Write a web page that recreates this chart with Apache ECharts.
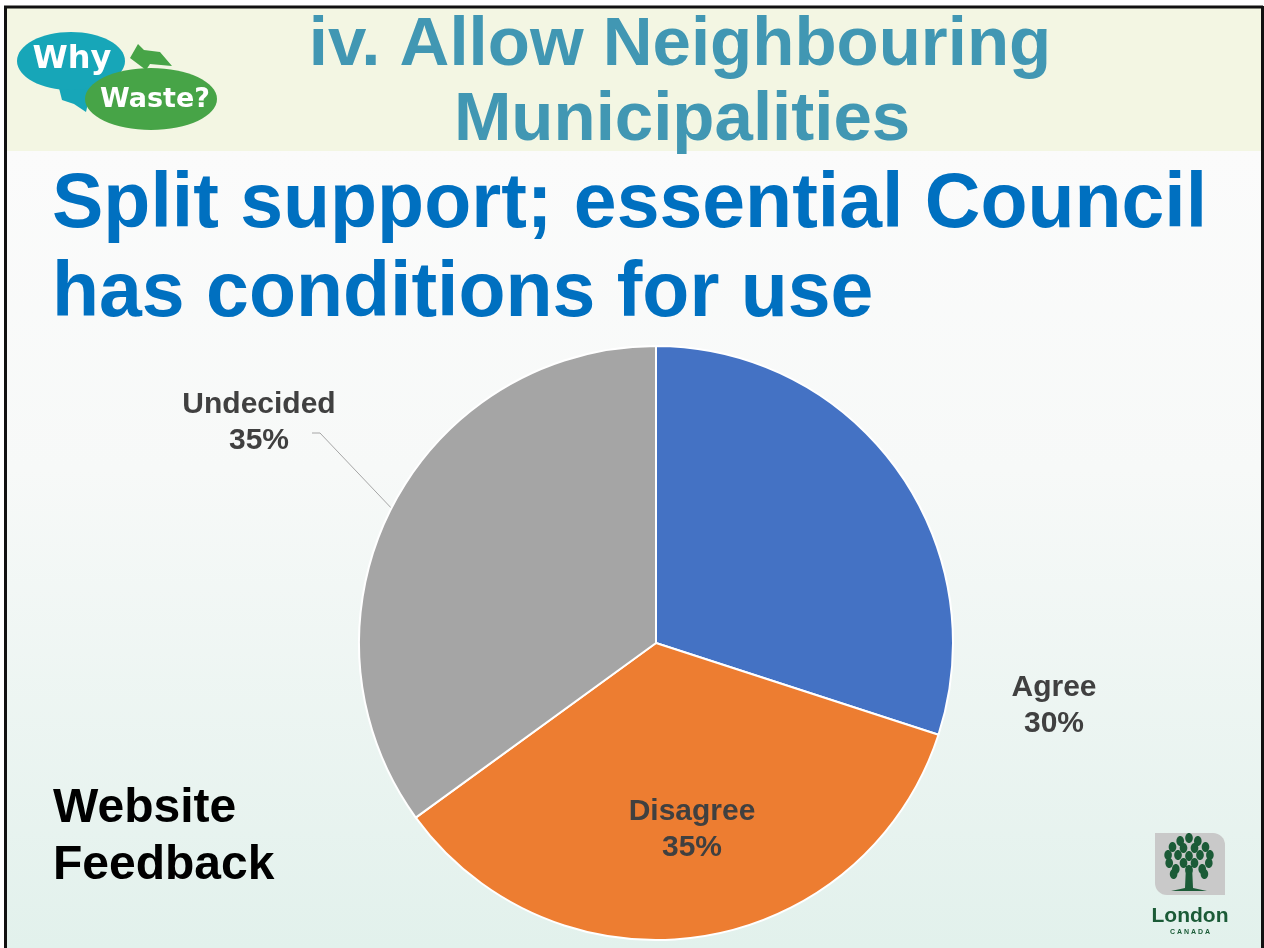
<!DOCTYPE html>
<html>
<head>
<meta charset="utf-8">
<script src="https://cdn.jsdelivr.net/npm/echarts@6/dist/echarts.min.js"></script>
<style>
html,body{margin:0;padding:0;background:#ffffff;}
#chart{width:1264px;height:948px;}
</style>
</head>
<body>
<div id="chart"></div>
<script>
// ---- data ----
const categories = ['Agree', 'Disagree', 'Undecided'];
const values = [30, 35, 35];
const sliceColors = ['#4472C4', '#ED7D31', '#A5A5A5'];
const titleLines = ['iv. Allow Neighbouring', 'Municipalities'];
const subtitleLines = ['Split support; essential Council', 'has conditions for use'];
const noteLines = ['Website', 'Feedback'];

// label placement (label anchors, not marks)
const labelAnchors = [[1054, 706], [692, 830], [259, 423]];
const labelLineShown = [false, false, true];

const FONT = '"Liberation Sans", Arial, sans-serif';
const chart = echarts.init(document.getElementById('chart'), null, {renderer: 'canvas'});

const pieData = categories.map((c, i) => ({
  name: c,
  value: values[i],
  itemStyle: {color: sliceColors[i]},
  labelLine: {show: labelLineShown[i], lineStyle: {color: '#A6A6A6', width: 1}}
}));

// tree leaves for London logo
const leaves = [];
const leafPts = [[0,-22],[-8,-19],[8,-19],[-15,-13],[15,-13],[-19,-5],[19,-5],[-18,3],[18,3],[-12,9],[12,9],[-5,-12],[5,-12],[-10,-5],[10,-5],[0,-4],[-5,3],[5,3],[0,10],[-14,14],[14,14]];
leafPts.forEach(p => leaves.push({
  type: 'ellipse', shape: {cx: 1189 + p[0] * 1.1, cy: 860 + p[1], rx: 3.8, ry: 5},
  style: {fill: '#1B5B37'}
}));

const option = {
  animation: false,
  graphic: [
    // background
    {type: 'rect', shape: {x: 0, y: 0, width: 1264, height: 948}, style: {fill: '#ffffff'}, z: -10},
    {type: 'rect', shape: {x: 6, y: 151, width: 1256, height: 797},
     style: {fill: new echarts.graphic.LinearGradient(0, 0, 0, 1, [
       {offset: 0, color: '#FBFBFB'}, {offset: 0.4, color: '#F7F9F8'}, {offset: 1, color: '#E2F1EC'}])}, z: -9},
    {type: 'rect', shape: {x: 6, y: 8, width: 1256, height: 143}, style: {fill: '#F3F6E3'}, z: -9},
    // frame
    {type: 'line', shape: {x1: 4, y1: 7, x2: 1263, y2: 7}, style: {stroke: '#111', lineWidth: 3}, z: 5},
    {type: 'line', shape: {x1: 5.5, y1: 6, x2: 5.5, y2: 948}, style: {stroke: '#111', lineWidth: 3}, z: 5},
    {type: 'line', shape: {x1: 1262.5, y1: 6, x2: 1262.5, y2: 948}, style: {stroke: '#111', lineWidth: 3}, z: 5},
    // Why Waste logo
    {type: 'polygon', shape: {points: [[58,84],[92,86],[86,112],[74,104],[62,100]]}, style: {fill: '#17A6B8'}, z: 1},
    {type: 'ellipse', shape: {cx: 71, cy: 61, rx: 54, ry: 29}, style: {fill: '#17A6B8'}, z: 1},
    {type: 'polygon', shape: {points: [[130,58],[138,44],[144,50],[160,52],[172,66],[150,64],[146,70]]}, style: {fill: '#47A447'}, z: 1},
    {type: 'ellipse', shape: {cx: 151, cy: 99, rx: 66, ry: 31}, style: {fill: '#47A447'}, z: 2},
    {type: 'text', style: {text: 'Why', x: 72, y: 60, align: 'center', verticalAlign: 'middle',
      font: 'bold 32px "Comic Sans MS", "DejaVu Sans", sans-serif', fill: '#ffffff'}, z: 3},
    {type: 'text', style: {text: 'Waste?', x: 155, y: 100, align: 'center', verticalAlign: 'middle',
      font: 'bold 27px "Comic Sans MS", "DejaVu Sans", sans-serif', fill: '#ffffff'}, z: 3},
    // titles
    {type: 'text', style: {text: titleLines[0], x: 680, y: 46, align: 'center', verticalAlign: 'middle',
      font: 'bold 69px ' + FONT, fill: '#4197B3'}},
    {type: 'text', style: {text: titleLines[1], x: 682, y: 121, align: 'center', verticalAlign: 'middle',
      font: 'bold 69px ' + FONT, fill: '#4197B3'}},
    {type: 'text', style: {text: subtitleLines[0], x: 52, y: 206, align: 'left', verticalAlign: 'middle',
      font: 'bold 77px ' + FONT, fill: '#0070C0'}},
    {type: 'text', style: {text: subtitleLines[1], x: 52, y: 295, align: 'left', verticalAlign: 'middle',
      font: 'bold 77px ' + FONT, fill: '#0070C0'}},
    {type: 'text', style: {text: noteLines[0], x: 53, y: 809, align: 'left', verticalAlign: 'middle',
      font: 'bold 48px ' + FONT, fill: '#000000'}},
    {type: 'text', style: {text: noteLines[1], x: 53, y: 866, align: 'left', verticalAlign: 'middle',
      font: 'bold 48px ' + FONT, fill: '#000000'}},
    // London logo
    {type: 'rect', shape: {x: 1155, y: 833, width: 70, height: 62, r: [0, 12, 0, 12]}, style: {fill: '#C9C9C9'}},
    {type: 'polygon', shape: {points: [[1186,866],[1192,866],[1193,888],[1207,891],[1171,891],[1185,888]]}, style: {fill: '#1B5B37'}},
    ...leaves,
    {type: 'text', style: {text: 'London', x: 1190, y: 916, align: 'center', verticalAlign: 'middle',
      font: 'bold 21px ' + FONT, fill: '#1B5B37'}},
    {type: 'text', style: {text: 'C A N A D A', x: 1190, y: 932, align: 'center', verticalAlign: 'middle',
      font: 'bold 7px ' + FONT, fill: '#1B5B37'}}
  ],
  series: [{
    type: 'pie',
    center: [656, 643],
    radius: 297,
    startAngle: 90,
    clockwise: true,
    avoidLabelOverlap: false,
    itemStyle: {borderColor: '#ffffff', borderWidth: 2},
    label: {
      show: true,
      position: 'outside',
      formatter: p => p.name + '\n' + p.value + '%',
      color: '#404040',
      fontFamily: FONT,
      fontWeight: 'bold',
      fontSize: 30,
      lineHeight: 36,
      align: 'center'
    },
    labelLine: {length: 20, length2: 10},
    labelLayout: function (params) {
      const a = labelAnchors[params.dataIndex];
      const out = {x: a[0], y: a[1], align: 'center', verticalAlign: 'middle'};
      if (labelLineShown[params.dataIndex] && params.labelLinePoints) {
        const start = params.labelLinePoints[0];
        out.labelLinePoints = [start, [a[0] + 61, a[1] + 10], [a[0] + 53, a[1] + 10]];
      }
      return out;
    },
    data: pieData
  }]
};
chart.setOption(option);
</script>
</body>
</html>
